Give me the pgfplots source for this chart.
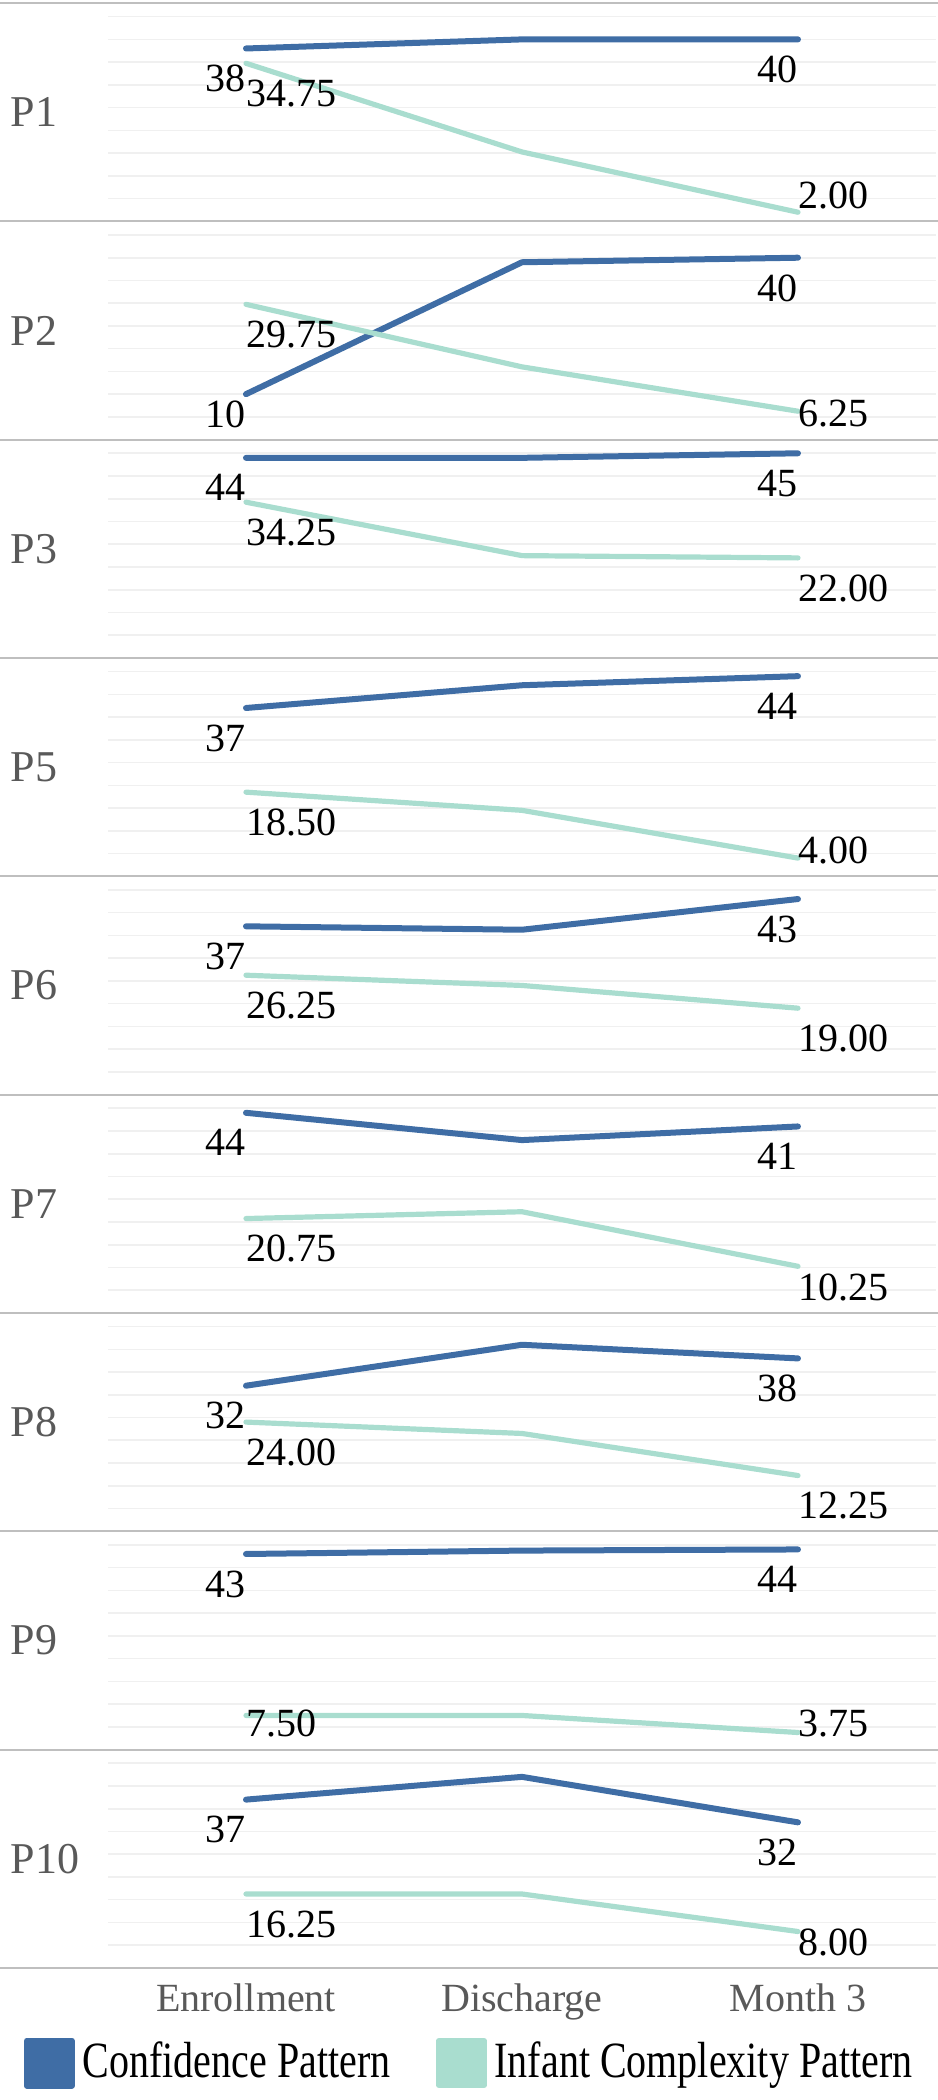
\documentclass[border=0pt]{standalone}
\usepackage{fontspec}
\setmainfont{Liberation Serif}
\usepackage{graphicx}
\usepackage{pgfplots}
\pgfplotsset{compat=1.18}
\usepgfplotslibrary{groupplots}

\definecolor{confc}{HTML}{3F6DA5}
\definecolor{infc}{HTML}{A9DDCF}
\definecolor{gridc}{HTML}{F0F0F0}
\definecolor{sepc}{HTML}{BFBFBF}
\definecolor{labc}{HTML}{595959}

\newcommand{\lblfont}{\fontsize{10pt}{12pt}\selectfont}
\newcommand{\pfont}{\fontsize{11pt}{13pt}\selectfont}

% value labels: below the point, kept inside the panel
\newcommand{\clab}[3]{\pgfmathsetmacro\ty{max(#2-3.5,8.8)}%
  \edef\tmp{\noexpand\node[anchor=north east,inner sep=0pt,font=\noexpand\lblfont] at (axis cs:#1,\ty) {#3};}\tmp}
\newcommand{\ilab}[3]{\pgfmathsetmacro\ty{max(#2-3.5,8.8)}%
  \edef\tmp{\noexpand\node[anchor=north west,inner sep=0pt,font=\noexpand\lblfont] at (axis cs:#1,\ty) {#3};}\tmp}

% #1 name, #2-#4 confidence, #5-#7 infant complexity
\newcommand{\panel}[7]{%
  \addplot[confc, line width=1.5pt, line cap=round, line join=round] coordinates {(0,#2) (1,#3) (2,#4)};
  \addplot[infc, line width=1.3pt, line cap=round, line join=round] coordinates {(0,#5) (1,#6) (2,#7)};
  \clab{0}{#2}{#2}\clab{2}{#4}{#4}%
  \ilab{0}{#5}{#5}\ilab{2}{#7}{#7}%
  \node[anchor=west, inner sep=0pt, font=\pfont, text=labc] at ([xshift=-24.5pt]rel axis cs:0,0.5) {#1};
  \draw[sepc, line width=0.5pt] ([xshift=-27pt]rel axis cs:0,0) -- ([xshift=0.5pt]rel axis cs:1,0);
}

\begin{document}
\begin{tikzpicture}
\begin{groupplot}[
  group style={group size=1 by 9, vertical sep=0pt, x descriptions at=edge bottom},
  width=207pt, height=54.58pt, scale only axis,
  xmin=-0.5, xmax=2.5, ymin=0, ymax=48,
  xtick={0,1,2}, xticklabels={Enrollment,Discharge,Month 3},
  ytick={5,10,...,45}, yticklabels={},
  major tick length=0pt,
  ymajorgrids, grid style={gridc, line width=0.4pt},
  axis line style={draw=none},
  clip=false,
  xticklabel style={font=\lblfont, text=labc, anchor=base, yshift=-11pt, inner sep=0pt},
]
\nextgroupplot
\coordinate (TL) at (rel axis cs:0,1);
\draw[sepc, line width=0.5pt] ([xshift=-27pt]rel axis cs:0,1) -- ([xshift=0.5pt]rel axis cs:1,1);
\panel{P1}{38}{40}{40}{34.75}{15.25}{2.00}
\nextgroupplot
\panel{P2}{10}{39}{40}{29.75}{16}{6.25}
\nextgroupplot
\panel{P3}{44}{44}{45}{34.25}{22.5}{22.00}
\nextgroupplot
\panel{P5}{37}{42}{44}{18.50}{14.5}{4.00}
\nextgroupplot
\panel{P6}{37}{36.25}{43}{26.25}{24}{19.00}
\nextgroupplot
\panel{P7}{44}{38}{41}{20.75}{22.25}{10.25}
\nextgroupplot
\panel{P8}{32}{41}{38}{24.00}{21.5}{12.25}
\nextgroupplot
\panel{P9}{43}{43.75}{44}{7.50}{7.50}{3.75}
\nextgroupplot[
  legend columns=2, legend cell align=left,
  legend image code/.code={\fill[#1] (0pt,-5.625pt) rectangle (11.25pt,5.625pt);},
  legend style={at={(-0.1027,-0.30)}, anchor=north west, draw=none, fill=none,
    font=\lblfont, inner sep=0pt,
    /tikz/every even column/.append style={column sep=9.5pt}},
]
\panel{P10}{37}{42}{32}{16.25}{16.25}{8.00}
\legend{\scalebox{1}[1.27]{Confidence Pattern},\scalebox{1}[1.27]{Infant Complexity Pattern}}
\end{groupplot}
\pgfresetboundingbox
\path ([shift={(-27pt,0.75pt)}]TL) rectangle ++(234.5pt,-525pt);
\end{tikzpicture}
\end{document}
